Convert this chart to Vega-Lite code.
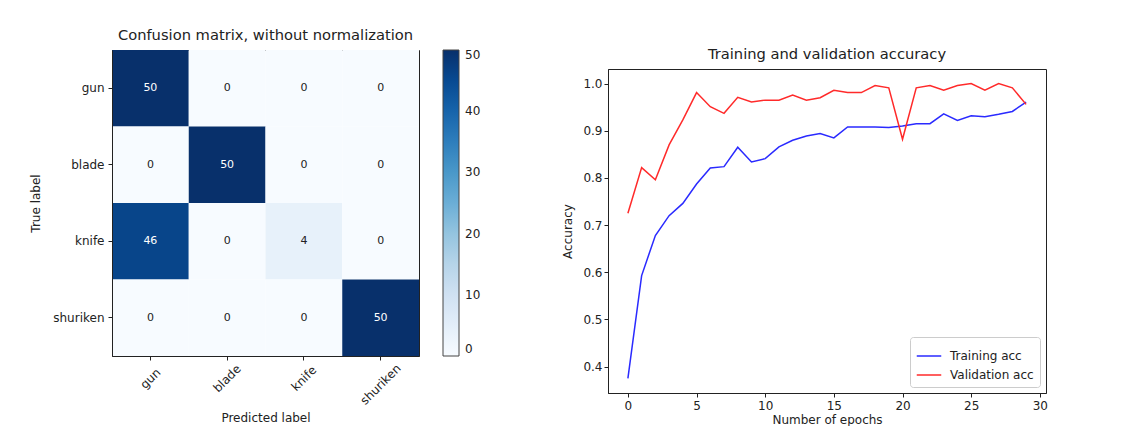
{
  "$schema": "https://vega.github.io/schema/vega-lite/v6.json",
  "background": "white",
  "padding": {"left": 29, "top": 27, "right": 5, "bottom": 0},
  "spacing": 79,
  "resolve": {"scale": {"color": "independent"}, "legend": {"color": "independent"}},
  "config": {
    "font": "DejaVu Sans",
    "view": {"stroke": "#222", "strokeWidth": 1},
    "axis": {"domainColor": "#222", "tickColor": "#222", "tickSize": 4, "labelFontSize": 12, "titleFontSize": 12, "labelColor": "#222", "titleColor": "#222", "titleFontWeight": "normal", "grid": false, "labelFont": "DejaVu Sans", "titleFont": "DejaVu Sans"},
    "title": {"fontSize": 14.7, "fontWeight": "normal", "color": "#222", "font": "DejaVu Sans", "offset": 7},
    "legend": {"labelFont": "DejaVu Sans", "labelColor": "#222", "labelFontSize": 12}
  },
  "datasets": {
    "cm": [
      {"true": "gun", "pred": "gun", "count": 50},
      {"true": "gun", "pred": "blade", "count": 0},
      {"true": "gun", "pred": "knife", "count": 0},
      {"true": "gun", "pred": "shuriken", "count": 0},
      {"true": "blade", "pred": "gun", "count": 0},
      {"true": "blade", "pred": "blade", "count": 50},
      {"true": "blade", "pred": "knife", "count": 0},
      {"true": "blade", "pred": "shuriken", "count": 0},
      {"true": "knife", "pred": "gun", "count": 46},
      {"true": "knife", "pred": "blade", "count": 0},
      {"true": "knife", "pred": "knife", "count": 4},
      {"true": "knife", "pred": "shuriken", "count": 0},
      {"true": "shuriken", "pred": "gun", "count": 0},
      {"true": "shuriken", "pred": "blade", "count": 0},
      {"true": "shuriken", "pred": "knife", "count": 0},
      {"true": "shuriken", "pred": "shuriken", "count": 50}
    ],
    "acc": [
      {"epoch": 0, "series": "Training acc", "acc": 0.375},
      {"epoch": 1, "series": "Training acc", "acc": 0.593},
      {"epoch": 2, "series": "Training acc", "acc": 0.678},
      {"epoch": 3, "series": "Training acc", "acc": 0.72},
      {"epoch": 4, "series": "Training acc", "acc": 0.746},
      {"epoch": 5, "series": "Training acc", "acc": 0.787},
      {"epoch": 6, "series": "Training acc", "acc": 0.821},
      {"epoch": 7, "series": "Training acc", "acc": 0.824},
      {"epoch": 8, "series": "Training acc", "acc": 0.865},
      {"epoch": 9, "series": "Training acc", "acc": 0.834},
      {"epoch": 10, "series": "Training acc", "acc": 0.841},
      {"epoch": 11, "series": "Training acc", "acc": 0.866},
      {"epoch": 12, "series": "Training acc", "acc": 0.88},
      {"epoch": 13, "series": "Training acc", "acc": 0.889},
      {"epoch": 14, "series": "Training acc", "acc": 0.894},
      {"epoch": 15, "series": "Training acc", "acc": 0.885},
      {"epoch": 16, "series": "Training acc", "acc": 0.908},
      {"epoch": 17, "series": "Training acc", "acc": 0.908},
      {"epoch": 18, "series": "Training acc", "acc": 0.908},
      {"epoch": 19, "series": "Training acc", "acc": 0.907},
      {"epoch": 20, "series": "Training acc", "acc": 0.91},
      {"epoch": 21, "series": "Training acc", "acc": 0.915},
      {"epoch": 22, "series": "Training acc", "acc": 0.915},
      {"epoch": 23, "series": "Training acc", "acc": 0.936},
      {"epoch": 24, "series": "Training acc", "acc": 0.922},
      {"epoch": 25, "series": "Training acc", "acc": 0.932},
      {"epoch": 26, "series": "Training acc", "acc": 0.93},
      {"epoch": 27, "series": "Training acc", "acc": 0.935},
      {"epoch": 28, "series": "Training acc", "acc": 0.941},
      {"epoch": 29, "series": "Training acc", "acc": 0.961},
      {"epoch": 0, "series": "Validation acc", "acc": 0.725},
      {"epoch": 1, "series": "Validation acc", "acc": 0.822},
      {"epoch": 2, "series": "Validation acc", "acc": 0.796},
      {"epoch": 3, "series": "Validation acc", "acc": 0.87},
      {"epoch": 4, "series": "Validation acc", "acc": 0.923},
      {"epoch": 5, "series": "Validation acc", "acc": 0.981},
      {"epoch": 6, "series": "Validation acc", "acc": 0.951},
      {"epoch": 7, "series": "Validation acc", "acc": 0.937},
      {"epoch": 8, "series": "Validation acc", "acc": 0.971},
      {"epoch": 9, "series": "Validation acc", "acc": 0.961},
      {"epoch": 10, "series": "Validation acc", "acc": 0.965},
      {"epoch": 11, "series": "Validation acc", "acc": 0.965},
      {"epoch": 12, "series": "Validation acc", "acc": 0.976},
      {"epoch": 13, "series": "Validation acc", "acc": 0.965},
      {"epoch": 14, "series": "Validation acc", "acc": 0.97},
      {"epoch": 15, "series": "Validation acc", "acc": 0.986},
      {"epoch": 16, "series": "Validation acc", "acc": 0.981},
      {"epoch": 17, "series": "Validation acc", "acc": 0.981},
      {"epoch": 18, "series": "Validation acc", "acc": 0.996},
      {"epoch": 19, "series": "Validation acc", "acc": 0.991},
      {"epoch": 20, "series": "Validation acc", "acc": 0.882},
      {"epoch": 21, "series": "Validation acc", "acc": 0.991},
      {"epoch": 22, "series": "Validation acc", "acc": 0.996},
      {"epoch": 23, "series": "Validation acc", "acc": 0.986},
      {"epoch": 24, "series": "Validation acc", "acc": 0.996},
      {"epoch": 25, "series": "Validation acc", "acc": 1.0},
      {"epoch": 26, "series": "Validation acc", "acc": 0.986},
      {"epoch": 27, "series": "Validation acc", "acc": 1.0},
      {"epoch": 28, "series": "Validation acc", "acc": 0.991},
      {"epoch": 29, "series": "Validation acc", "acc": 0.956}
    ]
  },
  "hconcat": [
    {
      "width": 307,
      "height": 306,
      "title": {"text": "Confusion matrix, without normalization"},
      "data": {"name": "cm"},
      "encoding": {
        "x": {"field": "pred", "type": "nominal", "sort": ["gun", "blade", "knife", "shuriken"], "scale": {"paddingInner": 0, "paddingOuter": 0}, "axis": {"title": "Predicted label", "labelAngle": -45, "labelAlign": "center", "labelBaseline": "middle", "labelPadding": {"condition": {"test": "datum.value === 'shuriken'", "value": 24}, "value": 18}, "titlePadding": 6}},
        "y": {"field": "true", "type": "nominal", "sort": ["gun", "blade", "knife", "shuriken"], "scale": {"paddingInner": 0, "paddingOuter": 0}, "axis": {"title": "True label", "labelPadding": 4, "titlePadding": 10}}
      },
      "layer": [
        {
          "mark": {"type": "rect"},
          "encoding": {
            "color": {"field": "count", "type": "quantitative", "scale": {"domain": [0, 6.25, 12.5, 18.75, 25, 31.25, 37.5, 43.75, 50], "range": ["#f7fbff", "#deebf7", "#c6dbef", "#9ecae1", "#6baed6", "#4292c6", "#2171b5", "#08519c", "#08306b"], "interpolate": "rgb"}, "legend": {"type": "gradient", "title": null, "orient": "right", "offset": 24, "gradientLength": 306, "gradientThickness": 16, "values": [0, 10, 20, 30, 40, 50], "gradientStrokeColor": "#444", "gradientStrokeWidth": 1, "labelOffset": 6}}
          }
        },
        {
          "mark": {"type": "text", "fontSize": 11},
          "encoding": {
            "text": {"field": "count", "type": "quantitative"},
            "color": {"condition": {"test": "datum.count > 25", "value": "white"}, "value": "#222"}
          }
        }
      ]
    },
    {
      "spacing": -5,
      "resolve": {"scale": {"color": "independent"}, "legend": {"color": "independent"}},
      "vconcat": [
        {
          "width": 438,
          "height": 1,
          "data": {"values": []},
          "mark": {"type": "text"},
          "encoding": {},
          "view": {"stroke": null}
        },
        {
          "width": 438,
          "height": 324,
          "title": {"text": "Training and validation accuracy"},
          "data": {"name": "acc"},
          "mark": {"type": "line", "strokeWidth": 1.5},
          "encoding": {
            "x": {"field": "epoch", "type": "quantitative", "scale": {"domain": [-1.45, 30.45], "nice": false, "zero": false}, "axis": {"values": [0, 5, 10, 15, 20, 25, 30], "title": "Number of epochs", "titlePadding": 3, "labelPadding": 3}},
            "y": {"field": "acc", "type": "quantitative", "scale": {"domain": [0.344, 1.031], "nice": false, "zero": false}, "axis": {"values": [0.4, 0.5, 0.6, 0.7, 0.8, 0.9, 1.0], "format": ".1f", "title": "Accuracy", "titlePadding": 8}},
            "color": {"field": "series", "type": "nominal", "scale": {"domain": ["Training acc", "Validation acc"], "range": ["#2a2aff", "#ff2a2a"]}, "legend": {"title": null, "orient": "bottom-right", "symbolType": "stroke", "symbolStrokeWidth": 1.5, "symbolSize": 600, "fillColor": "white", "strokeColor": "#ccc", "padding": 6, "cornerRadius": 3, "offset": 6, "labelFontSize": 12, "rowPadding": 0, "labelOffset": 8}}
          }
        }
      ]
    }
  ]
}
